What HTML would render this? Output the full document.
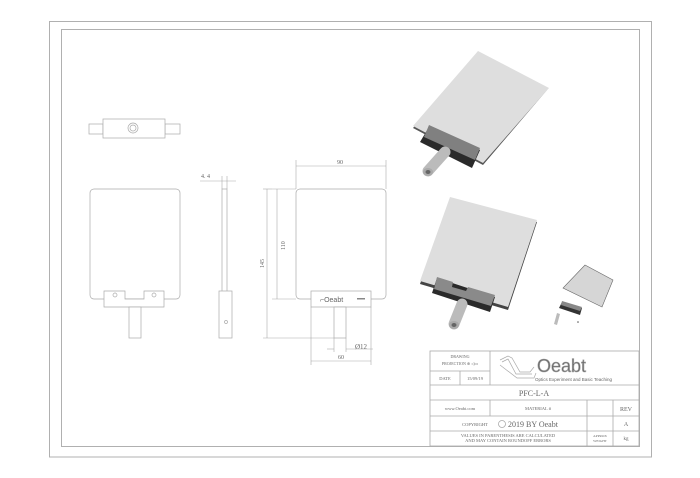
<!DOCTYPE html>
<html><head><meta charset="utf-8"><style>
html,body{margin:0;padding:0;background:#fff}
svg{display:block}
text{font-family:"Liberation Serif",serif;fill:#666}
</style></head><body>
<svg width="700" height="478" viewBox="0 0 700 478" xmlns="http://www.w3.org/2000/svg">
<rect x="0" y="0" width="700" height="478" fill="#fff"/>
<rect x="49.5" y="21.5" width="602" height="435.5" fill="none" stroke="#b0b0b0" stroke-width="1"/>
<rect x="61.5" y="29.5" width="578" height="417" fill="none" stroke="#b0b0b0" stroke-width="1"/>

<g fill="#fff" stroke="#aaa" stroke-width="0.7">
<rect x="89" y="124" width="14" height="10"/>
<rect x="165" y="124" width="15" height="10"/>
<rect x="103" y="119" width="62" height="19"/>
<circle cx="133" cy="128" r="5"/>
<circle cx="133" cy="128" r="3"/>
<rect x="90" y="189" width="90" height="110" rx="4"/>
<path d="M104 291 H125 V299 H144 V291 H164 V307 H104 Z"/>
<rect x="129" y="307" width="12" height="31"/>
<circle cx="115" cy="295" r="2"/>
<circle cx="154" cy="295" r="2"/>
<rect x="222" y="189" width="5" height="108"/>
<rect x="219" y="291" width="13" height="47"/>
<circle cx="226" cy="322" r="1.5"/>
<rect x="296" y="189" width="90" height="110" rx="4"/>
<rect x="311" y="291" width="60" height="16"/>
<rect x="334" y="307" width="12" height="31"/>
</g>
<text x="320" y="302" font-size="7" fill="#999" style="font-family:'Liberation Sans',sans-serif">⌐Oeabt</text>
<rect x="357" y="298" width="8" height="1.5" fill="#888"/>

<g stroke="#aaa" stroke-width="0.6" fill="none">
<line x1="200" y1="181" x2="236" y2="181"/>
<line x1="222" y1="176" x2="222" y2="189"/><line x1="227" y1="176" x2="227" y2="189"/>
<line x1="296" y1="160" x2="296" y2="189"/><line x1="386" y1="160" x2="386" y2="189"/>
<line x1="296" y1="166" x2="386" y2="166"/>
<line x1="272" y1="189" x2="296" y2="189"/><line x1="272" y1="299" x2="296" y2="299"/>
<line x1="277" y1="189" x2="277" y2="299"/>
<line x1="263" y1="189" x2="272" y2="189"/><line x1="263" y1="338" x2="334" y2="338"/>
<line x1="267" y1="189" x2="267" y2="338"/>
<line x1="334" y1="338" x2="334" y2="352"/><line x1="346" y1="338" x2="346" y2="352"/>
<line x1="327" y1="349" x2="334" y2="349"/><line x1="346" y1="349" x2="373" y2="349"/>
<line x1="311" y1="307" x2="311" y2="365"/><line x1="371" y1="307" x2="371" y2="365"/>
<line x1="311" y1="361" x2="371" y2="361"/>
</g>
<text x="201" y="178" font-size="6">4. 4</text>
<text x="337" y="164" font-size="6">90</text>
<text x="0" y="0" font-size="6" transform="translate(285,250) rotate(-90)">110</text>
<text x="0" y="0" font-size="6" transform="translate(264,268) rotate(-90)">145</text>
<text x="355" y="349" font-size="7">Ø12</text>
<text x="338" y="359" font-size="6">60</text>

<g stroke="none">
<polygon points="478,53 547,90 483,165 413,128" fill="#555"/>
<polygon points="478,51 549,88 483,163 413,126" fill="#dedede"/>
<polygon points="420,142 429,127 480,150 472,168" fill="#2a2a2a"/>
<polygon points="429,125 480,148 475,160 424,137" fill="#808080"/>
<line x1="445" y1="152" x2="428" y2="171" stroke="#bbb" stroke-width="11" stroke-linecap="round"/>
<ellipse cx="428" cy="172" rx="5" ry="4" fill="#aaa"/>
<ellipse cx="428" cy="172" rx="2.5" ry="2" fill="#666"/>

<polygon points="450,199 537,222 508,310 420,284" fill="#444"/>
<polygon points="450,197 537,220 508,307 420,281" fill="#dedede"/>
<polygon points="432,293 437,278 495,297 490,312" fill="#2a2a2a"/>
<polygon points="437,277 453,282 452,287 466,291 468,287 495,295 491,306 434,289" fill="#8a8a8a"/>
<line x1="462" y1="304" x2="454" y2="324" stroke="#bbb" stroke-width="11" stroke-linecap="round"/>
<ellipse cx="454" cy="325" rx="5" ry="4" fill="#aaa"/>
<ellipse cx="454" cy="325" rx="2.5" ry="2" fill="#666"/>

<polygon points="585,265 613,280 602,307 563,288" fill="#d6d6d6" stroke="#666" stroke-width="0.6"/>
<polygon points="562,302 582,308 580,315 559,308" fill="#333"/>
<polygon points="562,301 582,307 580,311 561,305" fill="#888"/>
<polygon points="557,313 560,314 557,325 554,324" fill="#bbb"/>
<circle cx="578" cy="322" r="0.8" fill="#555"/>
</g>

<g stroke="#aaa" stroke-width="0.8" fill="none">
<rect x="430" y="351" width="209" height="95"/>
<line x1="430" y1="371" x2="490" y2="371"/>
<line x1="430" y1="385" x2="639" y2="385"/>
<line x1="430" y1="400" x2="639" y2="400"/>
<line x1="430" y1="416" x2="639" y2="416"/>
<line x1="430" y1="431" x2="639" y2="431"/>
<line x1="460" y1="371" x2="460" y2="385"/>
<line x1="490" y1="351" x2="490" y2="385"/>
<line x1="490" y1="400" x2="490" y2="416"/>
<line x1="587" y1="400" x2="587" y2="446"/>
<line x1="613" y1="400" x2="613" y2="446"/>
</g>
<g stroke="#aaa" stroke-width="0.7" fill="none">
<path d="M500 360 L508 356 L512 358 L520 372 L530 372 L534 367"/>
<path d="M502 362 L508 359 L516 374 L532 374"/>
<path d="M500 365 L517 378 L534 378 L536 373"/>
</g>
<text x="537" y="372" font-size="18" fill="#fff" stroke="#aaa" stroke-width="0.6" style="font-family:'Liberation Sans',sans-serif">Oeabt</text>
<text x="535" y="381" font-size="4.5" fill="#555" style="font-family:'Liberation Sans',sans-serif">Optics Experiment and Basic Teaching</text>
<text x="460" y="358" font-size="4" text-anchor="middle">DRAWING</text>
<text x="460" y="365" font-size="4" text-anchor="middle">PROJECTION ⊕ ◁▭</text>
<text x="445" y="380" font-size="4.5" text-anchor="middle">DATE</text>
<text x="475" y="380" font-size="4.5" text-anchor="middle">15/09/19</text>
<text x="534" y="396" font-size="8" text-anchor="middle">PFC-L-A</text>
<text x="460" y="410" font-size="4.5" text-anchor="middle">www.Oeabt.com</text>
<text x="538" y="410" font-size="4.5" text-anchor="middle">MATERIAL #</text>
<text x="626" y="411" font-size="6" text-anchor="middle">REV</text>
<text x="626" y="426" font-size="6" text-anchor="middle">A</text>
<text x="475" y="426" font-size="4.5" text-anchor="middle">COPYRIGHT</text>
<circle cx="502" cy="424" r="3.5" fill="#fff" stroke="#aaa" stroke-width="0.8"/>
<text x="508" y="427" font-size="8" fill="#333">2019 BY Oeabt</text>
<text x="508" y="437" font-size="4.5" text-anchor="middle">VALUES IN PARENTHESIS ARE CALCULATED</text>
<text x="508" y="442" font-size="4.5" text-anchor="middle">AND MAY CONTAIN ROUNDOFF ERRORS</text>
<text x="600" y="437" font-size="3.5" text-anchor="middle">APPROX</text>
<text x="600" y="442" font-size="3.5" text-anchor="middle">WEIGHT</text>
<text x="626" y="440" font-size="5" text-anchor="middle">kg</text>
</svg>
</body></html>
